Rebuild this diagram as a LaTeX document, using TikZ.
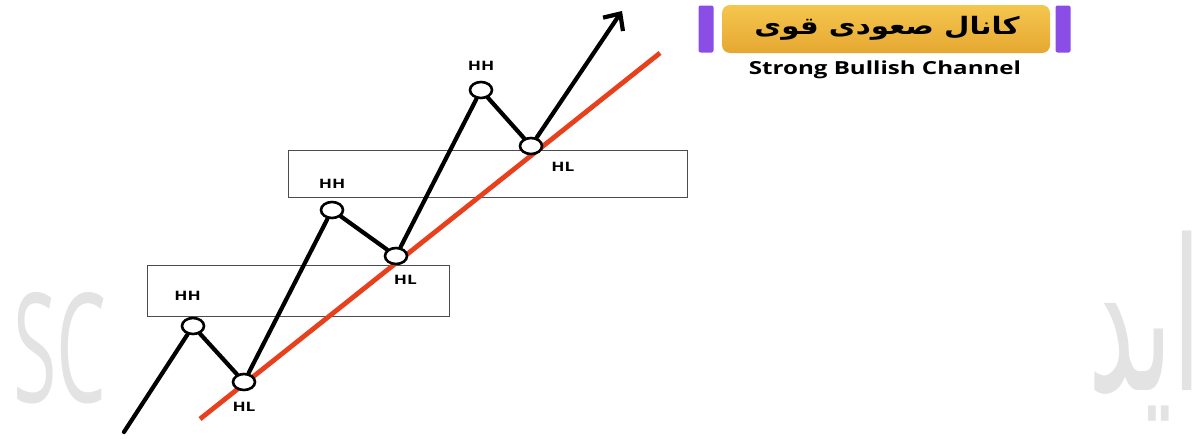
\documentclass[tikz,border=0pt]{standalone}
\usepackage{fontspec}
\setmainfont{Open Sans}
\newfontfamily\arabicfont[Script=Arabic]{DejaVu Sans}
\TeXXeTstate=1
\usetikzlibrary{arrows.meta,positioning,shapes.geometric}

\definecolor{trendred}{HTML}{E8401C}
\definecolor{goldtop}{HTML}{F5C64E}
\definecolor{goldbot}{HTML}{E5A832}
\definecolor{tagpurple}{HTML}{8A4DE6}
\definecolor{markgray}{HTML}{E3E3E3}

\tikzset{
  swing/.style={draw=black, line width=4.2pt, line cap=round, line join=round},
  trend/.style={draw=trendred, line width=4.8pt},
  pivot/.style={ellipse, draw=black, fill=white, line width=2.6pt,
    minimum width=22pt, minimum height=16pt, inner sep=0pt},
  zone/.style={draw=black!70, line width=1pt},
  ptlabel/.style={font=\bfseries\fontsize{13}{15}\selectfont, inner sep=0pt, xscale=1.33},
  tag/.style={fill=tagpurple, rounded corners=2pt, minimum width=15pt, minimum height=47pt, inner sep=0pt},
}

\begin{document}
\begin{tikzpicture}[x=1pt,y=-1pt]
  \useasboundingbox (0,0) rectangle (1203,439);
  \begin{scope}
    \clip (0,0) rectangle (1203,439);
    \node[text=markgray, xscale=0.52, inner sep=0pt, font=\fontsize{152}{152}\selectfont] (wmleft) at (60,348) {SC};
    \node[text=markgray, xscale=0.5, inner sep=0pt, anchor=east, font=\arabicfont\fontsize{210}{220}\selectfont] (wmright) at (1202,326) {\beginR اید\endR};
  \end{scope}

  \draw[zone] (147,265) rectangle (449,316);
  \draw[zone] (288,150) rectangle (687,197);

  \coordinate (start) at (124,432);
  \coordinate (tip) at (622,11);
  \coordinate (trendlo) at (200,419);
  \coordinate (trendhi) at (660,53);
  \draw[trend] (trendlo) -- (trendhi);

  \node[pivot] (hh1) at (193,326) {};
  \node[pivot] (hl1) at (244,382) {};
  \node[pivot] (hh2) at (332,210) {};
  \node[pivot] (hl2) at (396,256) {};
  \node[pivot] (hh3) at (481,90) {};
  \node[pivot] (hl3) at (531,146) {};

  \draw[swing] (start) -- (hh1) -- (hl1) -- (hh2) -- (hl2) -- (hh3) -- (hl3);
  \draw[swing, -{Straight Barb[length=13pt,width=24pt]}] (hl3) -- (tip);

  \node[ptlabel, above=16pt of hh1, xshift=-4pt] (hh1txt) {HH};
  \node[ptlabel, below=11pt of hl1] (hl1txt) {HL};
  \node[ptlabel, above=12pt of hh2] (hh2txt) {HH};
  \node[ptlabel, below=10pt of hl2, xshift=7pt] (hl2txt) {HL};
  \node[ptlabel, above=10pt of hh3] (hh3txt) {HH};
  \node[ptlabel, below=7pt of hl3, xshift=24pt] (hl3txt) {HL};

  \node[rounded corners=8pt, top color=goldtop, bottom color=goldbot,
    minimum width=328pt, minimum height=48pt, inner sep=0pt] (title) at (886,29) {};
  \node[font=\arabicfont\bfseries\fontsize{24}{28}\selectfont, xscale=1.22] (titletxt) at (887,28) {\beginR کانال صعودی قوی\endR};
  \node[tag] (tagl) at (706,29) {};
  \node[tag] (tagr) at (1063,29) {};
  \node[font=\bfseries\fontsize{18}{20}\selectfont, xscale=1.34] (subtitle) at (885,70) {Strong Bullish Channel};
\end{tikzpicture}
\end{document}
